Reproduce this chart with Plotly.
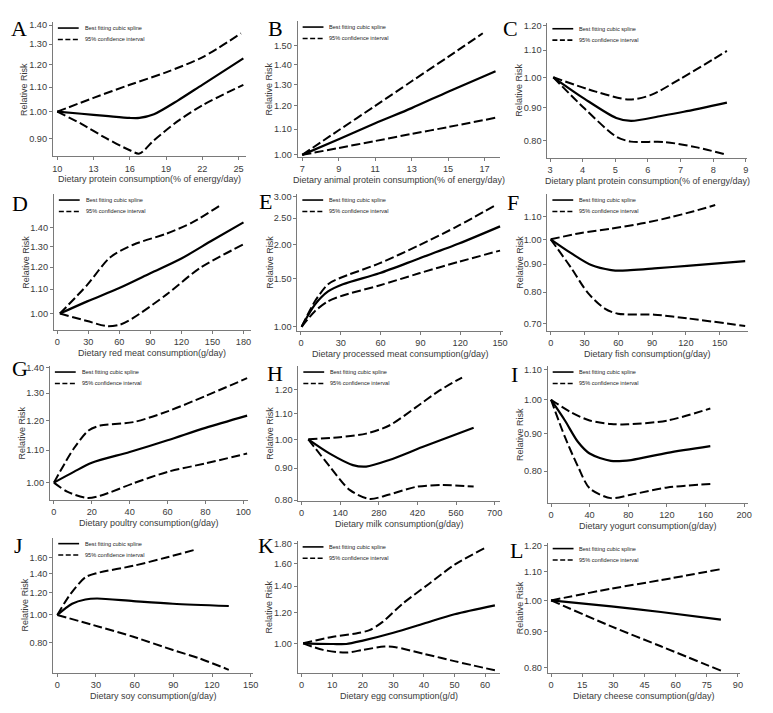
import plotly.graph_objects as go

W, H = 773, 713

# ---------------- data ----------------
# A: dietary protein (% of energy/day)
a_x_fit = [10, 12, 14, 16, 16.8, 18, 20, 22, 25.4]
a_fit = [1.0, 0.992, 0.984, 0.976, 0.976, 0.990, 1.045, 1.11, 1.23]
a_x_up = [10, 13, 16, 19, 22, 25.2]
a_up = [1.0, 1.055, 1.11, 1.165, 1.235, 1.355]
a_x_lo = [10, 12, 14, 16, 16.8, 18, 20, 22, 25.4]
a_lo = [1.0, 0.954, 0.903, 0.861, 0.850, 0.895, 0.965, 1.025, 1.11]

# B: animal protein
b_x_fit = [7, 9, 11, 13, 15, 17.6]
b_fit = [1.0, 1.06, 1.125, 1.19, 1.265, 1.365]
b_x_up = [7, 9, 11, 13, 15, 16.9]
b_up = [1.0, 1.096, 1.2, 1.315, 1.44, 1.572]
b_x_lo = [7, 9, 11, 13, 15, 17.6]
b_lo = [1.0, 1.026, 1.053, 1.081, 1.109, 1.148]

# C: plant protein
c_x_fit = [3.1, 4.06, 5.03, 5.48, 6.4, 7.1, 8.42]
c_fit = [1.0, 0.927, 0.867, 0.858, 0.873, 0.886, 0.915]
c_x_up = [3.1, 4.4, 5.43, 6.1, 7.0, 8.0, 8.42]
c_up = [1.0, 0.951, 0.925, 0.94, 0.995, 1.065, 1.097]
c_x_lo = [3.1, 4.06, 5.03, 5.48, 6.5, 7.5, 8.42]
c_lo = [1.0, 0.896, 0.812, 0.798, 0.797, 0.782, 0.762]

# D: red meat
d_x_fit = [2.6, 29, 60, 90, 120, 150, 180]
d_fit = [1.0, 1.049, 1.105, 1.171, 1.241, 1.333, 1.43]
d_x_up = [2.6, 29, 51, 73.5, 105.5, 131, 157]
d_up = [1.0, 1.119, 1.246, 1.31, 1.368, 1.431, 1.527]
d_x_lo = [2.6, 29, 48, 61, 73.5, 105.5, 137.5, 180]
d_lo = [1.0, 0.971, 0.952, 0.958, 0.983, 1.077, 1.194, 1.312]

# E: processed meat
e_x_fit = [0.5, 10.5, 20.4, 31.6, 59, 89, 119, 150]
e_fit = [1.0, 1.205, 1.347, 1.431, 1.569, 1.778, 2.016, 2.33]
e_x_up = [0.5, 10.5, 20.4, 29, 59, 89, 119, 146]
e_up = [1.0, 1.239, 1.431, 1.505, 1.706, 1.987, 2.348, 2.776]
e_x_lo = [0.5, 10.5, 20.4, 31.6, 59, 89, 119, 150]
e_lo = [1.0, 1.14, 1.239, 1.302, 1.416, 1.569, 1.729, 1.90]

# F: fish
f_x_fit = [0, 18.5, 36, 53.7, 62.5, 92, 121, 172.6]
f_fit = [1.0, 0.942, 0.897, 0.878, 0.876, 0.884, 0.894, 0.912]
f_x_up = [0, 27, 53.7, 83, 106.5, 127, 146]
f_up = [1.0, 1.027, 1.046, 1.071, 1.098, 1.126, 1.156]
f_x_lo = [0, 18.5, 33, 48, 59.6, 92, 121, 172.6]
f_lo = [1.0, 0.884, 0.797, 0.746, 0.730, 0.727, 0.716, 0.693]

# G: poultry
g_x_fit = [0, 10.5, 20, 40, 60, 80, 102]
g_fit = [1.0, 1.032, 1.06, 1.094, 1.132, 1.174, 1.217]
g_x_up = [0, 10.5, 18.3, 24.4, 41.9, 60, 80, 102]
g_up = [1.0, 1.105, 1.165, 1.182, 1.194, 1.232, 1.289, 1.358]
g_x_lo = [0, 7, 17.5, 24.4, 42, 60, 80, 102]
g_lo = [1.0, 0.974, 0.956, 0.962, 0.998, 1.032, 1.058, 1.089]

# H: milk
h_x_fit = [24, 102, 186, 234, 318, 438, 624]
h_fit = [1.0, 0.949, 0.910, 0.905, 0.927, 0.972, 1.043]
h_x_up = [24, 138, 234, 318, 414, 498, 582]
h_up = [1.0, 1.008, 1.021, 1.052, 1.124, 1.194, 1.254]
h_x_lo = [24, 102, 174, 246, 318, 414, 510, 624]
h_lo = [1.0, 0.905, 0.831, 0.804, 0.817, 0.84, 0.846, 0.841]

# I: yogurt
i_x_fit = [0, 14.4, 28, 40, 62, 83, 120.5, 165]
i_fit = [1.0, 0.937, 0.876, 0.845, 0.826, 0.828, 0.847, 0.865]
i_x_up = [0, 21, 40, 62, 79.5, 120.5, 165]
i_up = [1.0, 0.961, 0.937, 0.927, 0.926, 0.937, 0.973]
i_x_lo = [0, 14.4, 28, 40, 62, 83, 120.5, 165]
i_lo = [1.0, 0.89, 0.811, 0.758, 0.735, 0.743, 0.76, 0.768]

# J: soy
j_x_fit = [0, 11.5, 21.8, 30.8, 59, 89.7, 133]
j_fit = [1.0, 1.096, 1.135, 1.144, 1.12, 1.096, 1.076]
j_x_up = [0, 10.3, 21.8, 30.8, 59, 84.6, 106.4]
j_up = [1.0, 1.188, 1.36, 1.408, 1.494, 1.599, 1.701]
j_x_lo = [0, 33, 59, 89.7, 110, 133]
j_lo = [1.0, 0.907, 0.837, 0.751, 0.702, 0.639]

# K: egg
k_x_fit = [0.5, 10.3, 14.6, 20, 30, 40, 50, 63.2]
k_fit = [1.0, 0.996, 0.996, 1.016, 1.064, 1.124, 1.187, 1.251]
k_x_up = [0.5, 10.3, 17.8, 22.2, 26.5, 33, 41.6, 50.3, 59.8]
k_up = [1.0, 1.04, 1.06, 1.081, 1.135, 1.263, 1.419, 1.595, 1.751]
k_x_lo = [0.5, 7, 14.6, 20, 27, 30.8, 40, 50.3, 63.2]
k_lo = [1.0, 0.962, 0.947, 0.962, 0.981, 0.977, 0.94, 0.899, 0.853]

# L: cheese
l_x_fit = [0, 29, 52.9, 81.8]
l_fit = [1.0, 0.980, 0.962, 0.938]
l_x_up = [0, 29, 52.9, 81.8]
l_up = [1.0, 1.04, 1.07, 1.11]
l_x_lo = [0, 29, 52.9, 81.8]
l_lo = [1.0, 0.917, 0.858, 0.791]

letters = ["A", "B", "C", "D", "E", "F", "G", "H", "I", "J", "K", "L"]
x_titles = [
    "Dietary protein consumption(% of energy/day)",
    "Dietary animal protein consumption(% of energy/day)",
    "Dietary plant protein consumption(% of energy/day)",
    "Dietary red meat consumption(g/day)",
    "Dietary processed meat consumption(g/day)",
    "Dietary fish consumption(g/day)",
    "Dietary poultry consumption(g/day)",
    "Dietary milk consumption(g/day)",
    "Dietary yogurt consumption(g/day)",
    "Dietary soy consumption(g/day)",
    "Dietary egg consumption(g/d)",
    "Dietary cheese consumption(g/day)",
]
y_title = "Relative Risk"
legend_names = ["Best fitting cubic spline", "95% confidence interval"]

x_tickvals = [
    [10, 13, 16, 19, 22, 25],
    [7, 9, 11, 13, 15, 17],
    [3, 4, 5, 6, 7, 8, 9],
    [0, 30, 60, 90, 120, 150, 180],
    [0, 30, 60, 90, 120, 150],
    [0, 30, 60, 90, 120, 150],
    [0, 20, 40, 60, 80, 100],
    [0, 140, 280, 420, 560, 700],
    [0, 40, 80, 120, 160, 200],
    [0, 30, 60, 90, 120, 150],
    [0, 10, 20, 30, 40, 50, 60],
    [0, 15, 30, 45, 60, 75, 90],
]
y_tickvals = [
    [0.9, 1.0, 1.1, 1.2, 1.3, 1.4],
    [1.0, 1.1, 1.2, 1.3, 1.4, 1.5],
    [0.8, 0.9, 1.0, 1.1, 1.2],
    [1.0, 1.1, 1.2, 1.3, 1.4],
    [1.0, 1.5, 2.0, 2.5, 3.0],
    [0.7, 0.8, 0.9, 1.0, 1.1],
    [1.0, 1.1, 1.2, 1.3, 1.4],
    [0.8, 0.9, 1.0, 1.1, 1.2],
    [0.8, 0.9, 1.0, 1.1],
    [0.8, 1.0, 1.2, 1.4, 1.6],
    [1.0, 1.2, 1.4, 1.6, 1.8],
    [0.8, 0.9, 1.0, 1.1, 1.2],
]

series = [
    (a_x_fit, a_fit, a_x_up, a_up, a_x_lo, a_lo),
    (b_x_fit, b_fit, b_x_up, b_up, b_x_lo, b_lo),
    (c_x_fit, c_fit, c_x_up, c_up, c_x_lo, c_lo),
    (d_x_fit, d_fit, d_x_up, d_up, d_x_lo, d_lo),
    (e_x_fit, e_fit, e_x_up, e_up, e_x_lo, e_lo),
    (f_x_fit, f_fit, f_x_up, f_up, f_x_lo, f_lo),
    (g_x_fit, g_fit, g_x_up, g_up, g_x_lo, g_lo),
    (h_x_fit, h_fit, h_x_up, h_up, h_x_lo, h_lo),
    (i_x_fit, i_fit, i_x_up, i_up, i_x_lo, i_lo),
    (j_x_fit, j_fit, j_x_up, j_up, j_x_lo, j_lo),
    (k_x_fit, k_fit, k_x_up, k_up, k_x_lo, k_lo),
    (l_x_fit, l_fit, l_x_up, l_up, l_x_lo, l_lo),
]

# ---------------- layout geometry (pixels) ----------------
BOX = [  # left, right, top, bottom of each plot area
    (52.3, 246.7, 19.3, 155.0),
    (299.0, 503.0, 18.3, 155.7),
    (550.7, 752.3, 20.0, 156.7),
    (53.3, 251.7, 193.0, 330.3),
    (298.7, 506.3, 193.0, 331.3),
    (550.7, 753.3, 193.0, 331.3),
    (49.3, 249.0, 366.7, 501.7),
    (299.7, 503.0, 366.7, 503.3),
    (551.0, 753.3, 366.7, 505.0),
    (52.7, 254.0, 540.0, 676.7),
    (299.0, 503.0, 543.3, 676.7),
    (551.0, 745.0, 545.0, 676.7),
]
X_RANGE = [
    [9.64, 25.6], [6.75, 17.85], [2.92, 9.05],
    [-3.2, 187], [-2.7, 152.5], [-2.9, 175.5],
    [-2.1, 102.5], [-12, 720], [-3.4, 204.5],
    [-3.1, 151.8], [-1.3, 64.9], [-1.6, 91.1],
]
Y_RANGE_LOG = [
    [-0.0755, 0.151], [-0.0037, 0.2161], [-0.1232, 0.083],
    [-0.0281, 0.2035], [-0.0157, 0.4855], [-0.1685, 0.083],
    [-0.02184, 0.1483], [-0.0987, 0.1165], [-0.1404, 0.0457],
    [-0.206, 0.274], [-0.0761, 0.262], [-0.1053, 0.0837],
]
LETTER_POS = [
    (18.3, 24.0), (276.3, 24.2), (513.5, 24.5),
    (19.0, 200.5), (266.3, 198.8), (516.0, 199.5),
    (19.0, 367.5), (276.3, 372.5), (517.5, 373.3),
    (18.0, 546.0), (267.0, 546.0), (520.0, 551.0),
]

SANS = "Arial, Liberation Sans, sans-serif"
SERIF = "Times New Roman, Liberation Serif, serif"
AXIS_COL = "#7a7a7a"
TEXT_COL = "#3a3a3a"
SOLID_W = 2.2
DASH_W = 2.0
DASH = "9px,3.5px"
TICK_FS = 9.2
TITLE_FS = 9.0


def px_x(v):
    return v / W


def px_y(v):
    return 1 - v / H


fig = go.Figure()
layout = dict(
    width=W, height=H, margin=dict(l=0, r=0, t=0, b=0),
    paper_bgcolor="white", plot_bgcolor="white", showlegend=False,
    font=dict(family=SANS, color=TEXT_COL),
)
annotations = []
shapes = []

for i in range(12):
    n = i + 1
    sx = "" if n == 1 else str(n)
    xname, yname = "x" + sx, "y" + sx
    l, r, t, b = BOX[i]
    xf, yf, xu, yu, xl, yl = series[i]

    fig.add_trace(go.Scatter(x=xf, y=yf, mode="lines", name=legend_names[0],
                             line=dict(color="black", width=SOLID_W, shape="spline", smoothing=0.8),
                             xaxis=xname, yaxis=yname))
    fig.add_trace(go.Scatter(x=xu, y=yu, mode="lines", name=legend_names[1],
                             line=dict(color="black", width=DASH_W, dash=DASH, shape="spline", smoothing=0.8),
                             xaxis=xname, yaxis=yname))
    fig.add_trace(go.Scatter(x=xl, y=yl, mode="lines", name=legend_names[1],
                             line=dict(color="black", width=DASH_W, dash=DASH, shape="spline", smoothing=0.8),
                             xaxis=xname, yaxis=yname))

    layout["xaxis" + sx] = dict(
        domain=[px_x(l), px_x(r)], anchor=yname, range=X_RANGE[i],
        tickmode="array", tickvals=x_tickvals[i],
        ticks="outside", ticklen=3, tickwidth=1, tickcolor=AXIS_COL,
        showline=True, linecolor=AXIS_COL, linewidth=1,
        showgrid=False, zeroline=False,
        tickfont=dict(size=TICK_FS, color=TEXT_COL, family=SANS),
    )
    layout["yaxis" + sx] = dict(
        domain=[px_y(b), px_y(t)], anchor=xname, type="log", range=Y_RANGE_LOG[i],
        tickmode="array", tickvals=y_tickvals[i], tickformat=".2f",
        ticks="outside", ticklen=3, tickwidth=1, tickcolor=AXIS_COL,
        showline=True, linecolor=AXIS_COL, linewidth=1,
        showgrid=False, zeroline=False,
        tickfont=dict(size=TICK_FS, color=TEXT_COL, family=SANS),
    )

    # axis titles
    annotations.append(dict(text=x_titles[i], xref="paper", yref="paper",
                            x=px_x((l + r) / 2), y=px_y(b + 16), xanchor="center", yanchor="top",
                            showarrow=False, font=dict(size=TITLE_FS, color=TEXT_COL, family=SANS)))
    annotations.append(dict(text=y_title, xref="paper", yref="paper",
                            x=px_x(l - 28.5), y=px_y((t + b) / 2), xanchor="center", yanchor="middle",
                            textangle=-90, showarrow=False,
                            font=dict(size=TITLE_FS, color=TEXT_COL, family=SANS)))
    # panel letter
    lx, ly = LETTER_POS[i]
    annotations.append(dict(text=letters[i], xref="paper", yref="paper",
                            x=px_x(lx), y=px_y(ly + 1.5), xanchor="center", yanchor="middle",
                            showarrow=False, font=dict(size=22, color="black", family=SERIF)))
    # legend (drawn inside the plot area, top-left)
    for k, (dy, dash) in enumerate([(6, "solid"), (17.5, "5px,2.5px")]):
        shapes.append(dict(type="line", xref="paper", yref="paper",
                           x0=px_x(l + 5), x1=px_x(l + 26), y0=px_y(t + dy), y1=px_y(t + dy),
                           line=dict(color="black", width=1.6, dash=dash)))
        annotations.append(dict(text=legend_names[k], xref="paper", yref="paper",
                                x=px_x(l + 30), y=px_y(t + dy), xanchor="left", yanchor="middle",
                                showarrow=False, font=dict(size=5.6, color="#222222", family=SANS)))

layout["annotations"] = annotations
layout["shapes"] = shapes
fig.update_layout(**layout)
fig.write_html("out.html", config={"displayModeBar": False, "staticPlot": True},
               post_script="document.body.style.margin='0px';")
